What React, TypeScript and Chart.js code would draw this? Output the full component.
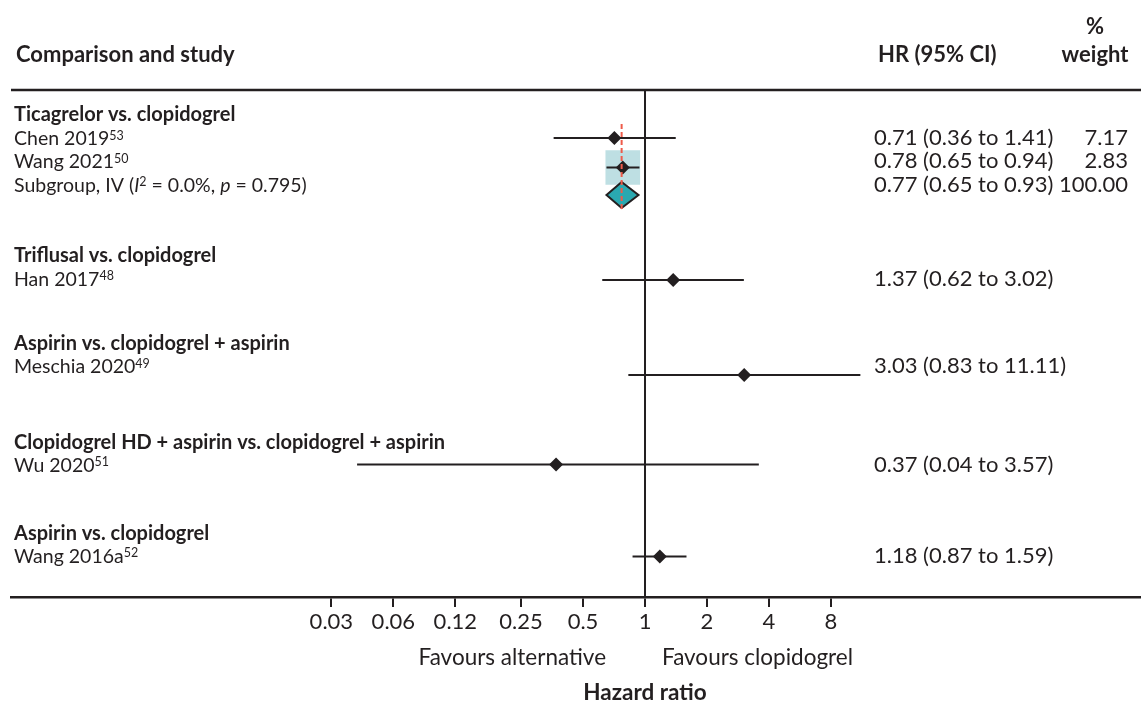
import { useEffect, useRef } from 'react';
import { Chart, registerables } from 'chart.js';

Chart.register(...registerables);

// ---- data -------------------------------------------------------------
const GROUPS = [
  'Ticagrelor vs. clopidogrel',
  'Triflusal vs. clopidogrel',
  'Aspirin vs. clopidogrel + aspirin',
  'Clopidogrel HD + aspirin vs. clopidogrel + aspirin',
  'Aspirin vs. clopidogrel',
];
const STUDIES = ['Chen 2019', 'Wang 2021', 'Han 2017', 'Meschia 2020', 'Wu 2020', 'Wang 2016a'];
const STUDY_REFS = ['53', '50', '48', '49', '51', '52'];
const HR = [0.71, 0.78, 1.37, 3.03, 0.37, 1.18];
const CI_LOW = [0.36, 0.65, 0.62, 0.83, 0.04, 0.87];
const CI_HIGH = [1.41, 0.94, 3.02, 11.11, 3.57, 1.59];
const WEIGHTS: (number | null)[] = [7.17, 2.83, null, null, null, null];

const POOLED_HR = 0.77;
const POOLED_LOW = 0.65;
const POOLED_HIGH = 0.93;
const POOLED_WEIGHT = 100;
const POOLED_I2 = 0.0;
const POOLED_P = 0.795;

const TICK_VALUES = [0.03, 0.06, 0.12, 0.25, 0.5, 1, 2, 4, 8];
const TICK_LABELS = ['0.03', '0.06', '0.12', '0.25', '0.5', '1', '2', '4', '8'];

// ---- layout (vertical positions in text-line units below the top rule) ---
const LINE_PX = 23;
const PLOT_PX = 507;
const PLOT_LEFT = 11;
const GROUP_LINE = [1.348, 7.478, 11.304, 15.587, 19.565];
const STUDY_LINE = [2.413, 3.413, 8.5, 12.326, 16.587, 20.565];
const POOLED_LINE = 4.435;
const MARK_LINE = [2.087, 3.37, 8.261, 12.391, 16.283, 20.283];
const POOLED_MARK_LINE = 4.565;
const SHADED = [false, true, false, false, false, false];
const HEADER_LINE = -1.217;
const PERCENT_LINE = -2.435;
const REF_LINE_TOP = 1.48;
const REF_LINE_BOTTOM = 5.22;

const INK = '#231f20';
const TEAL = '#2aa8b0';
const SHADE = '#bedfe3';
const RED = '#ee5b4a';
const FAMILY = 'Lato, "Noto Sans", sans-serif';
const LABEL_SIZE = 19.5;
const GROUP_SIZE = 20;
const VALUE_SIZE = 22;
const HEADER_SIZE = 22;
const TICK_SIZE = 22;
const CAPTION_SIZE = 22.5;

type Run = { t: string; s?: 'b' | 'i' | 'sup' };

function drawRuns(ctx: CanvasRenderingContext2D, runs: Run[], x: number, y: number, size: number) {
  let cx = x;
  for (const r of runs) {
    let fs = size;
    let dy = 0;
    let style = '';
    if (r.s === 'b') style = 'bold ';
    if (r.s === 'i') style = 'italic ';
    if (r.s === 'sup') {
      fs = size * 0.64;
      dy = -size * 0.3;
    }
    ctx.font = `${style}${fs}px ${FAMILY}`;
    ctx.fillText(r.t, cx, y + dy);
    cx += ctx.measureText(r.t).width;
  }
}

const fmt = (v: number) => v.toFixed(2);

const forestPlugin = {
  id: 'forest',
  // pin the hazard-ratio axis to the full plotting strip
  afterLayout(chart: any) {
    const x = chart.scales.x;
    x.left = PLOT_LEFT;
    x.right = chart.width;
    x.width = x.right - x.left;
    x.configure();
    x._gridLineItems = null;
    x._labelItems = null;
  },
  beforeDatasetsDraw(chart: any) {
    const { ctx, chartArea, scales } = chart;
    const x = scales.x;
    ctx.save();
    ctx.strokeStyle = INK;
    ctx.lineWidth = 2.5;
    ctx.beginPath();
    ctx.moveTo(x.left, chartArea.top);
    ctx.lineTo(x.right, chartArea.top);
    ctx.stroke();
    const x1 = x.getPixelForValue(1);
    ctx.lineWidth = 2;
    ctx.beginPath();
    ctx.moveTo(x1, chartArea.top);
    ctx.lineTo(x1, chartArea.bottom);
    ctx.stroke();
    ctx.restore();
  },
  afterDatasetsDraw(chart: any) {
    const { ctx, scales } = chart;
    const x = scales.x;
    const y = scales.y;
    ctx.save();
    // pooled estimate diamond
    const cy = y.getPixelForValue(POOLED_MARK_LINE);
    const half = 13;
    ctx.beginPath();
    ctx.moveTo(x.getPixelForValue(POOLED_LOW), cy);
    ctx.lineTo(x.getPixelForValue(POOLED_HR), cy - half);
    ctx.lineTo(x.getPixelForValue(POOLED_HIGH), cy);
    ctx.lineTo(x.getPixelForValue(POOLED_HR), cy + half);
    ctx.closePath();
    ctx.fillStyle = TEAL;
    ctx.fill();
    ctx.strokeStyle = INK;
    ctx.lineWidth = 2;
    ctx.stroke();
    // pooled reference line
    const px = x.getPixelForValue(POOLED_HR);
    ctx.strokeStyle = RED;
    ctx.lineWidth = 2;
    ctx.setLineDash([5, 3]);
    ctx.beginPath();
    ctx.moveTo(px, y.getPixelForValue(REF_LINE_TOP));
    ctx.lineTo(px, y.getPixelForValue(REF_LINE_BOTTOM));
    ctx.stroke();
    ctx.restore();
  },
  afterDraw(chart: any) {
    const { ctx, scales } = chart;
    const x = scales.x;
    const y = scales.y;
    const py = (v: number) => y.getPixelForValue(v);
    const left = 14;
    const hrX = 874;
    const wRight = 1128;
    const wCenter = 1095;
    ctx.save();
    ctx.fillStyle = INK;
    ctx.textBaseline = 'alphabetic';

    // headers
    ctx.textAlign = 'left';
    ctx.font = `bold ${HEADER_SIZE}px ${FAMILY}`;
    ctx.fillText('Comparison and study', 16, py(HEADER_LINE));
    ctx.fillText('HR (95% CI)', 878, py(HEADER_LINE));
    ctx.textAlign = 'center';
    ctx.fillText('%', wCenter, py(PERCENT_LINE));
    ctx.fillText('weight', wCenter, py(HEADER_LINE));

    // group titles
    ctx.textAlign = 'left';
    GROUPS.forEach((g, i) => {
      drawRuns(ctx, [{ t: g, s: 'b' }], left, py(GROUP_LINE[i]), GROUP_SIZE);
    });

    // study rows
    STUDIES.forEach((s, i) => {
      ctx.textAlign = 'left';
      drawRuns(ctx, [{ t: s }, { t: STUDY_REFS[i], s: 'sup' }], left, py(STUDY_LINE[i]), LABEL_SIZE);
      ctx.font = `${VALUE_SIZE}px ${FAMILY}`;
      ctx.fillText(`${fmt(HR[i])} (${fmt(CI_LOW[i])} to ${fmt(CI_HIGH[i])})`, hrX, py(STUDY_LINE[i]));
      const w = WEIGHTS[i];
      if (w !== null) {
        ctx.textAlign = 'right';
        ctx.fillText(fmt(w), wRight, py(STUDY_LINE[i]));
      }
    });

    // pooled row
    ctx.textAlign = 'left';
    drawRuns(
      ctx,
      [
        { t: 'Subgroup, IV (' },
        { t: 'I', s: 'i' },
        { t: '2', s: 'sup' },
        { t: ` = ${POOLED_I2.toFixed(1)}%, ` },
        { t: 'p', s: 'i' },
        { t: ` = ${POOLED_P.toFixed(3)})` },
      ],
      left,
      py(POOLED_LINE),
      LABEL_SIZE
    );
    ctx.font = `${VALUE_SIZE}px ${FAMILY}`;
    ctx.fillText(`${fmt(POOLED_HR)} (${fmt(POOLED_LOW)} to ${fmt(POOLED_HIGH)})`, hrX, py(POOLED_LINE));
    ctx.textAlign = 'right';
    ctx.fillText(fmt(POOLED_WEIGHT), wRight, py(POOLED_LINE));

    // axis captions
    const x1 = x.getPixelForValue(1);
    ctx.font = `${CAPTION_SIZE}px ${FAMILY}`;
    ctx.textAlign = 'right';
    ctx.fillText('Favours alternative', x1 - 39, 665);
    ctx.textAlign = 'left';
    ctx.fillText('Favours clopidogrel', x1 + 17, 665);
    ctx.font = `bold ${CAPTION_SIZE}px ${FAMILY}`;
    ctx.textAlign = 'center';
    ctx.fillText('Hazard ratio', x1, 700);
    ctx.restore();
  },
};

export default function App() {
  const ref = useRef<HTMLCanvasElement | null>(null);

  useEffect(() => {
    if (!ref.current) return;

    const ciSets = STUDIES.map((_, i) => ({
      data: [
        { x: CI_LOW[i], y: MARK_LINE[i] },
        { x: CI_HIGH[i], y: MARK_LINE[i] },
      ],
      showLine: true,
      borderColor: INK,
      borderWidth: 2,
      pointRadius: 0,
      order: 3,
    }));

    const shadeSet = {
      data: HR.map((v, i) => ({ x: v, y: MARK_LINE[i] })).filter((_, i) => SHADED[i]),
      pointStyle: 'rect',
      pointRadius: 24.5,
      backgroundColor: SHADE,
      borderWidth: 0,
      order: 4,
    };

    const markSet = {
      data: HR.map((v, i) => ({ x: v, y: MARK_LINE[i] })),
      pointStyle: 'rectRot',
      pointRadius: 7,
      backgroundColor: INK,
      borderWidth: 0,
      order: 1,
    };

    const chart = new Chart(ref.current, {
      type: 'scatter',
      data: { datasets: [markSet, ...ciSets, shadeSet] as any },
      options: {
        animation: false,
        responsive: false,
        events: [],
        layout: { padding: { top: 90, left: PLOT_LEFT, right: 0, bottom: 0 } },
        plugins: { legend: { display: false }, tooltip: { enabled: false } },
        elements: { line: { tension: 0 } },
        scales: {
          x: {
            type: 'logarithmic',
            min: Math.pow(2, -10.226),
            max: 256,
            afterBuildTicks: (s: any) => {
              s.ticks = TICK_VALUES.map((v) => ({ value: v }));
            },
            afterFit: (s: any) => {
              s.height = 107;
            },
            grid: {
              drawOnChartArea: false,
              drawTicks: true,
              tickLength: 10,
              color: INK,
              lineWidth: 2,
            },
            border: { display: true, color: INK, width: 2.5 },
            ticks: {
              autoSkip: false,
              maxRotation: 0,
              padding: 2,
              color: INK,
              font: { family: FAMILY, size: TICK_SIZE },
              callback: (_v: any, i: number) => TICK_LABELS[i],
            },
          },
          y: {
            type: 'linear',
            display: false,
            reverse: true,
            min: 0,
            max: PLOT_PX / LINE_PX,
          },
        },
      },
      plugins: [forestPlugin],
    });

    return () => chart.destroy();
  }, []);

  return (
    <div style={{ position: 'absolute', left: 0, top: 0, width: 1141, height: 704, background: '#fff' }}>
      <canvas ref={ref} width={1141} height={704} style={{ display: 'block' }} />
    </div>
  );
}
